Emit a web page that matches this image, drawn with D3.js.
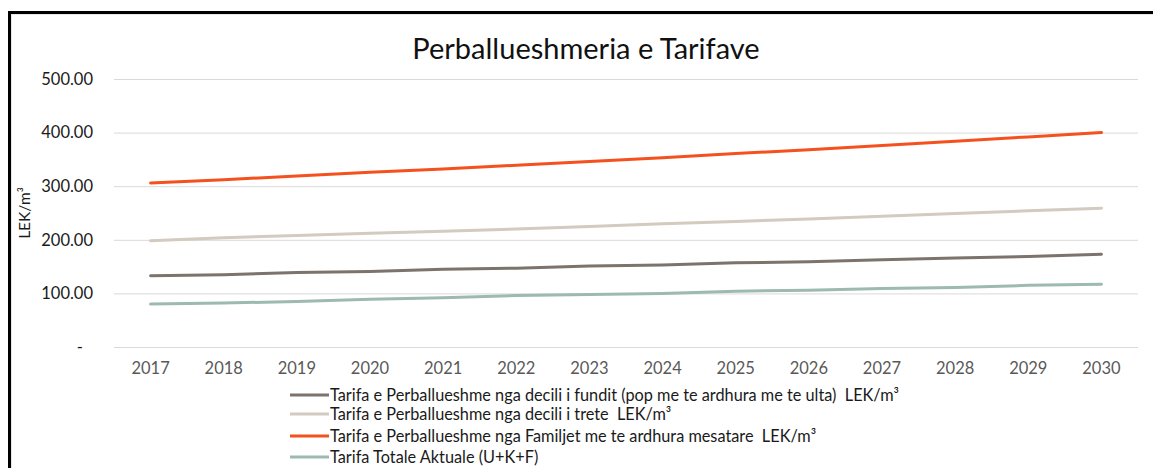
<!DOCTYPE html>
<html>
<head>
<meta charset="utf-8">
<script src="https://cdn.jsdelivr.net/npm/d3@7"></script>
<style>
  html, body { margin: 0; padding: 0; background: #fff; }
  svg { display: block; font-family: Lato, "Open Sans", sans-serif; }
  .legend text { white-space: pre; }
</style>
</head>
<body>
<div id="chart"></div>
<script>
const years = ['2017', '2018', '2019', '2020', '2021', '2022', '2023', '2024', '2025', '2026', '2027', '2028', '2029', '2030'];
const yTicks = [0, 100, 200, 300, 400, 500];

const decileLowest = [133, 135, 139, 141, 145, 147, 151, 153, 157, 159, 163, 166, 169, 173];
const decileThird = [198, 204, 208, 212, 216, 220, 225, 230, 234, 239, 244, 249, 254, 259];
const averageFamilies = [306, 312, 319, 326, 332, 339, 346, 353, 361, 368, 376, 384, 392, 400];
const currentTotal = [80, 82, 85, 89, 92, 96, 98, 100, 104, 106, 109, 111, 115, 117];

const seriesNames = [
  'Tarifa e Perballueshme nga decili i fundit (pop me te ardhura me te ulta)  LEK/m³',
  'Tarifa e Perballueshme nga decili i trete  LEK/m³',
  'Tarifa e Perballueshme nga Familjet me te ardhura mesatare  LEK/m³',
  'Tarifa Totale Aktuale (U+K+F)'
];
const seriesColors = ['#7b736c', '#d3cac0', '#f4511e', '#9cbaaf'];
const seriesValues = [decileLowest, decileThird, averageFamilies, currentTotal];

const W = 1153, H = 468;
const margin = { top: 79, right: 15, bottom: 121, left: 114 };
const innerW = W - margin.left - margin.right;
const innerH = H - margin.top - margin.bottom;

const svg = d3.select('#chart').append('svg')
  .attr('width', W).attr('height', H);

// frame
svg.append('line').attr('x1', 8).attr('x2', W).attr('y1', 12.5).attr('y2', 12.5)
  .attr('stroke', '#000').attr('stroke-width', 3);
svg.append('line').attr('x1', 9.5).attr('x2', 9.5).attr('y1', 11).attr('y2', H)
  .attr('stroke', '#000').attr('stroke-width', 3);
svg.append('line').attr('x1', 11).attr('x2', W).attr('y1', 14.5).attr('y2', 14.5)
  .attr('stroke', '#e6e6e6').attr('stroke-width', 1);
svg.append('line').attr('x1', 11.5).attr('x2', 11.5).attr('y1', 14).attr('y2', H)
  .attr('stroke', '#e6e6e6').attr('stroke-width', 1);

svg.append('text').attr('x', 586).attr('y', 59)
  .attr('text-anchor', 'middle').attr('font-size', 29).attr('fill', '#111')
  .text('Perballueshmeria e Tarifave');

const g = svg.append('g').attr('transform', `translate(${margin.left},${margin.top})`);

const x = d3.scaleBand().domain(years).range([0, innerW]);
const y = d3.scaleLinear().domain([0, 500]).range([innerH, 0]);

// gridlines + y axis
const yAxis = g.append('g')
  .call(d3.axisLeft(y).tickValues(yTicks).tickSize(-innerW).tickPadding(21)
    .tickFormat(d => d === 0 ? '-' : d3.format('.2f')(d)));
yAxis.select('.domain').remove();
yAxis.selectAll('line').attr('stroke', '#d9d9d9');
yAxis.selectAll('text').attr('fill', '#1a1a1a').attr('font-size', 16.5)
  .attr('font-family', 'Lato, sans-serif');
yAxis.selectAll('.tick').filter(d => d === 0).select('text').attr('dx', -10);

const xAxis = g.append('g').attr('transform', `translate(0,${innerH})`)
  .call(d3.axisBottom(x).tickSize(0).tickPadding(15));
xAxis.select('.domain').remove();
xAxis.selectAll('text').attr('fill', '#595959').attr('font-size', 16.5)
  .attr('font-family', 'Lato, sans-serif');

g.append('text').attr('transform', 'rotate(-90)')
  .attr('x', -(213 - margin.top)).attr('y', 24 - margin.left + 6)
  .attr('text-anchor', 'middle').attr('font-size', 15.5).attr('fill', '#1a1a1a')
  .text('LEK/m³');

const line = d3.line()
  .x((d, i) => x(years[i]) + x.bandwidth() / 2)
  .y(d => y(d));

seriesValues.forEach((vals, k) => {
  g.append('path').datum(vals)
    .attr('fill', 'none').attr('stroke', seriesColors[k])
    .attr('stroke-width', 3).attr('stroke-linecap', 'round')
    .attr('d', line);
});

// legend
const legendRows = [395, 414, 436, 457];
const legend = svg.append('g').attr('class', 'legend');
seriesNames.forEach((name, k) => {
  const row = legend.append('g').attr('transform', `translate(290,${legendRows[k]})`);
  row.append('line').attr('x1', 0).attr('x2', 39).attr('y1', 0).attr('y2', 0)
    .attr('stroke', seriesColors[k]).attr('stroke-width', 3);
  row.append('text').attr('x', 40).attr('y', 5.5)
    .attr('font-size', 16.3).attr('fill', '#1a1a1a').text(name);
});
</script>
</body>
</html>
